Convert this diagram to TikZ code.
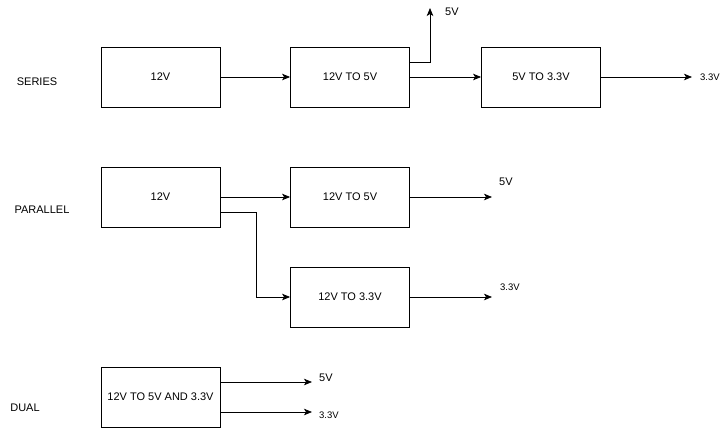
\documentclass[tikz,border=0pt]{standalone}
\usepackage{fontspec}
\setmainfont{Liberation Sans}
\usetikzlibrary{arrows.meta}
\begin{document}
\begin{tikzpicture}[x=1pt,y=-1pt,
  blk/.style={draw,line width=0.8pt,minimum width=119pt,minimum height=60pt,inner sep=0pt,font=\fontsize{11}{13}\selectfont},
  lbl/.style={font=\fontsize{11}{13}\selectfont,inner sep=0pt},
  sml/.style={font=\fontsize{9.5}{11}\selectfont,inner sep=0pt},
  conn/.style={line width=0.8pt,-{Stealth[length=8pt,width=6.5pt,inset=2pt]}}]
\useasboundingbox (0,0) rectangle (723,428);
% SERIES
\node[lbl] (series) at (37,82) {SERIES};
\node[blk] (s1) at (160.5,77) {12V};
\node[blk] (s2) at (350,77) {12V TO 5V};
\node[blk] (s3) at (541,77) {5V TO 3.3V};
\coordinate (s5v) at (430,8);
\coordinate (s33) at (692,77);
\node[lbl,anchor=west] (s5vl) at (445,12) {5V};
\node[sml,anchor=west] (s33l) at (700,77) {3.3V};
\draw[conn] (s1) -- (s2);
\draw[conn] (s2) -- (s3);
\draw[conn] (s3) -- (s33);
\draw[conn] ([yshift=15pt]s2.east) -| (s5v);
% PARALLEL
\node[lbl] (par) at (42,210) {PARALLEL};
\node[blk] (p1) at (160.5,197) {12V};
\node[blk] (p2) at (350,197) {12V TO 5V};
\node[blk] (p3) at (350,297) {12V TO 3.3V};
\coordinate (p5v) at (492,197);
\coordinate (p33) at (492,297);
\node[lbl,anchor=west] (p5vl) at (499,182) {5V};
\node[sml,anchor=west] (p33l) at (500,287) {3.3V};
\draw[conn] (p1) -- (p2);
\draw[conn] ([yshift=-15pt]p1.east) -- ++(36,0) |- (p3.west);
\draw[conn] (p2) -- (p5v);
\draw[conn] (p3) -- (p33);
% DUAL
\node[lbl] (dual) at (25,408) {DUAL};
\node[blk] (d1) at (160.5,397) {12V TO 5V AND 3.3V};
\coordinate (d5v) at (312,382);
\coordinate (d33) at (312,412);
\node[lbl,anchor=west] (d5vl) at (319,378) {5V};
\node[sml,anchor=west] (d33l) at (319,415) {3.3V};
\draw[conn] ([yshift=15pt]d1.east) -- (d5v);
\draw[conn] ([yshift=-15pt]d1.east) -- (d33);
\end{tikzpicture}
\end{document}
